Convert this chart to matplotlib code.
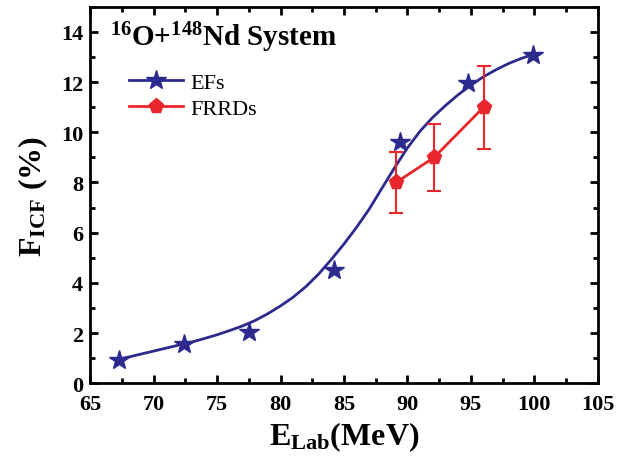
import matplotlib
matplotlib.use("Agg")
import matplotlib.pyplot as plt
from matplotlib.ticker import MultipleLocator

plt.rcParams["font.family"] = ["Liberation Serif", "DejaVu Serif"]
plt.rcParams["mathtext.fontset"] = "custom"
plt.rcParams["mathtext.rm"] = "Liberation Serif:bold"
plt.rcParams["mathtext.bf"] = "Liberation Serif:bold"
plt.rcParams["mathtext.it"] = "Liberation Serif:bold"

NAVY = "#2c2a8c"
RED = "#e8262b"

# EFs (stars)
ef_energy = [67.27, 72.4, 77.5, 84.2, 89.4, 94.8, 99.9]
ef_frac = [0.92, 1.55, 2.05, 4.5, 9.6, 11.95, 13.1]

# smooth guide curve through the EF points
curve_energy = [67.2, 68, 69, 70, 71, 72, 73, 74, 75, 76, 77, 78, 79, 80,
                81, 82, 83, 84, 85, 86, 87, 88, 89, 90, 91, 92, 93, 94, 95,
                96, 97, 98, 99, 100]
curve_frac = [0.95, 1.04, 1.16, 1.28, 1.4, 1.52, 1.64, 1.78, 1.93, 2.1,
              2.28, 2.5, 2.77, 3.08, 3.43, 3.85, 4.35, 4.93, 5.55, 6.22,
              6.95, 7.78, 8.6, 9.38, 10.05, 10.6, 11.07, 11.5, 11.88,
              12.22, 12.5, 12.75, 12.95, 13.13]

# FRRDs (pentagons with error bars)
frrd_energy = [89.1, 92.1, 96.0]
frrd_frac = [8.0, 9.0, 11.0]
frrd_err = [1.2, 1.35, 1.65]

fig = plt.figure(figsize=(6.26, 4.64), dpi=100)
ax = fig.add_axes([0.144, 0.172, 0.811, 0.811])

ax.plot(curve_energy, curve_frac, color=NAVY, lw=2, zorder=2)
ax.plot(ef_energy, ef_frac, ls="none", marker="*", ms=15, color=NAVY,
        zorder=3)
ax.errorbar(frrd_energy, frrd_frac, yerr=frrd_err, color=RED, lw=2,
            marker="p", ms=11, capsize=5, capthick=1.5, elinewidth=1.5,
            zorder=4)

# legend proxies
ax.plot([], [], color=NAVY, lw=2, marker="*", ms=15, label="EFs")
ax.plot([], [], color=RED, lw=2, marker="p", ms=11, label="FRRDs")
handles, labels = ax.get_legend_handles_labels()
ax.legend(handles, labels, loc="upper left", bbox_to_anchor=(0.06, 0.85),
          frameon=False, fontsize=16, handlelength=2.4, handletextpad=0.35,
          labelspacing=0.25, borderaxespad=0)

ax.text(0.04, 0.92, r"$^{16}$O+$^{148}$Nd System", transform=ax.transAxes,
        fontsize=21, fontweight="bold", va="center", ha="left")

ax.set_xlim(65, 105)
ax.set_ylim(0, 15)
ax.xaxis.set_major_locator(MultipleLocator(5))
ax.xaxis.set_minor_locator(MultipleLocator(2.5))
ax.yaxis.set_major_locator(MultipleLocator(2))
ax.yaxis.set_minor_locator(MultipleLocator(1))
ax.tick_params(which="both", direction="in", top=True, right=True, width=2,
               labelsize=16)
ax.tick_params(which="major", length=6)
ax.tick_params(which="minor", length=3.5)
ax.tick_params(axis="x", pad=8)
ax.tick_params(axis="y", pad=5)
for lab in ax.get_xticklabels() + ax.get_yticklabels():
    lab.set_fontweight("bold")
for sp in ax.spines.values():
    sp.set_linewidth(2)

ax.set_xlabel(r"E$_{\mathrm{Lab}}$(MeV)", fontsize=23, fontweight="bold",
              labelpad=4)
ax.set_ylabel(r"F$_{\mathrm{ICF}}$ (%)", fontsize=23, fontweight="bold",
              labelpad=8)

fig.savefig("out.png", dpi=100)
